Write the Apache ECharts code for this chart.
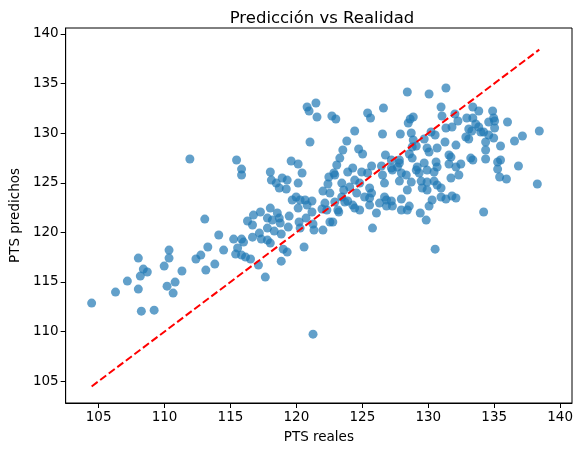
<!DOCTYPE html>
<html>
<head>
<meta charset="utf-8">
<script src="https://cdn.jsdelivr.net/npm/echarts@6/dist/echarts.min.js"></script>
<style>
html,body{margin:0;padding:0;background:#fff;}
#chart{width:583px;height:455px;}
</style>
</head>
<body>
<div id="chart"></div>
<script>
// Real points (x) and predicted points (y)
const realPts = [
111.92,113.05,110.34,113.28,108.01,110.34,112.38,112.75,108.39,108.69,
108.16,109.97,111.32,113.13,107.18,106.28,108.01,110.19,110.80,110.65,
104.47,108.24,109.21,115.46,115.84,115.84,119.60,120.13,118.02,118.10,
118.47,118.92,119.30,118.70,119.23,120.13,119.68,119.98,120.43,114.11,
113.81,114.48,115.24,115.84,115.99,115.54,115.39,115.84,116.14,116.52,
117.12,117.64,118.85,116.29,116.67,116.74,117.27,118.02,117.80,118.17,
118.55,118.70,118.77,119.45,120.20,119.38,117.80,118.32,118.85,117.19,
116.67,117.34,117.80,118.02,119.00,119.30,120.13,120.58,121.48,120.81,
120.96,121.56,122.69,122.99,125.40,125.62,126.60,124.42,126.53,121.03,
123.82,123.52,124.72,125.02,123.29,126.75,123.06,122.84,122.46,122.39,
124.27,124.95,125.70,126.45,127.81,127.20,122.91,123.89,124.42,125.40,
126.53,127.28,127.81,122.01,123.44,123.59,124.04,124.80,125.55,125.70,
126.68,124.57,122.54,123.44,122.16,122.91,123.67,124.27,125.55,126.68,
126.30,126.83,127.20,127.96,123.14,124.80,126.07,127.96,120.28,120.66,
121.18,120.81,121.18,120.73,121.26,121.33,122.01,122.31,121.94,122.54,
122.76,123.21,123.89,124.42,125.17,125.55,125.77,120.28,128.41,130.06,
131.34,130.97,131.04,132.02,132.25,132.92,128.63,128.86,128.48,131.34,
131.80,133.07,127.88,128.71,130.21,130.52,132.85,133.07,128.86,129.69,
129.09,128.78,129.91,130.06,130.67,131.27,132.10,128.56,128.78,131.57,
131.72,127.81,127.20,127.66,129.16,129.69,130.59,130.67,131.57,132.10,
132.47,127.96,128.33,129.09,129.31,129.91,130.44,128.71,129.46,129.91,
130.44,130.67,131.72,132.32,128.41,129.54,129.91,130.97,126.83,127.28,
128.56,128.41,129.39,129.84,130.06,130.29,130.97,131.34,131.80,132.10,
130.52,133.38,133.83,134.88,133.38,134.96,135.03,134.58,136.01,133.60,
133.83,135.03,133.30,133.98,134.20,134.58,134.96,134.35,136.54,137.14,
138.42,135.48,134.35,133.22,133.38,134.35,135.26,135.48,136.84,135.26,
135.41,135.93,138.27,134.20,121.26
];
const predPts = [
127.39,121.34,118.21,118.52,117.41,117.41,117.31,117.71,116.30,116.00,
115.59,116.60,116.10,116.20,115.09,113.98,114.28,114.58,114.99,113.88,
112.87,112.06,112.16,127.29,126.38,125.78,127.19,126.89,126.08,125.27,
124.97,125.48,125.27,124.47,124.37,124.97,123.26,123.56,125.98,119.73,
116.80,118.21,119.32,119.32,119.02,118.42,117.81,117.71,117.51,117.31,
116.70,115.49,117.10,121.14,120.74,121.74,122.05,122.45,121.44,121.24,
121.95,121.44,120.94,121.64,121.04,120.53,120.43,120.13,119.83,119.93,
119.52,119.32,119.22,118.92,118.31,118.01,122.45,118.52,133.04,132.64,
132.23,131.63,131.73,131.43,132.03,131.53,132.54,130.22,129.91,129.11,
129.21,128.30,128.40,127.90,127.49,127.80,126.79,125.98,125.58,124.87,
126.49,126.08,126.69,126.69,126.99,127.29,125.78,126.08,125.27,125.98,
125.78,126.28,125.17,124.16,124.97,124.27,124.57,124.97,124.47,123.96,
124.97,123.96,123.96,123.56,122.95,123.06,123.06,122.75,122.75,123.56,
122.95,122.65,123.16,123.36,122.25,122.25,121.95,122.25,123.26,123.26,
123.16,122.75,122.05,121.44,120.84,120.23,120.23,122.25,122.35,121.04,
121.04,122.05,123.16,122.45,123.56,123.46,120.43,120.43,134.15,133.95,
134.55,132.64,131.73,131.93,131.23,131.53,131.43,131.63,131.02,130.52,
130.62,130.42,129.91,130.02,130.12,129.81,129.61,129.41,129.31,129.41,
128.70,128.60,128.50,128.10,128.50,129.11,128.80,127.90,127.49,127.80,
127.59,127.29,126.49,126.59,126.59,126.99,127.09,126.59,126.89,126.59,
126.89,125.98,125.78,126.28,125.98,126.28,126.08,125.07,125.17,125.07,
125.17,124.77,125.48,125.78,124.27,124.47,124.27,124.47,123.26,122.65,
122.65,122.25,121.95,121.24,122.65,123.26,123.56,123.36,123.66,123.46,
118.31,132.64,132.23,132.23,131.53,131.53,131.23,131.12,131.12,130.92,
130.62,130.52,130.22,130.12,130.12,129.81,129.51,129.11,129.21,129.71,
130.22,128.70,128.30,127.49,127.29,127.39,127.09,127.29,126.69,126.38,
125.58,125.38,124.87,122.05,109.74
];
const xTicks = [105,110,115,120,125,130,135,140];
const yTicks = [105,110,115,120,125,130,135,140];
const titleText = 'Predicción vs Realidad';
const xName = 'PTS reales';
const yName = 'PTS predichos';

const scatterData = realPts.map((v, i) => [v, predPts[i]]);
const lo = Math.min(...realPts), hi = Math.max(...realPts);
const lineData = [[lo, lo], [hi, hi]];

const font = 'DejaVu Sans';
const chart = echarts.init(document.getElementById('chart'), null, {renderer: 'canvas'});
chart.setOption({
  animation: false,
  backgroundColor: '#fff',
  textStyle: {fontFamily: font},
  title: {
    text: titleText,
    left: 317, top: 5, textAlign: 'center',
    textStyle: {fontFamily: font, fontSize: 16.5, fontWeight: 'normal', color: '#000'}
  },
  grid: {left: 62, top: 28, width: 510, height: 375, show: true, borderColor: '#000', borderWidth: 1, backgroundColor: 'transparent', containLabel: false},
  xAxis: {
    type: 'value', min: 102.5, max: 140.9,
    name: xName, nameLocation: 'middle', nameGap: 27,
    nameTextStyle: {fontFamily: font, fontSize: 13.5, color: '#000'},
    axisLine: {show: true, onZero: false, lineStyle: {color: '#000', width: 1}},
    axisTick: {show: true, length: 5, inside: false, customValues: xTicks, lineStyle: {color: '#000'}},
    axisLabel: {customValues: xTicks, fontFamily: font, fontSize: 13.5, color: '#000', margin: 7},
    splitLine: {show: false}
  },
  yAxis: {
    type: 'value', min: 102.8, max: 140.6,
    name: yName, nameLocation: 'middle', nameGap: 37, nameRotate: 90,
    nameTextStyle: {fontFamily: font, fontSize: 13.5, color: '#000'},
    axisLine: {show: true, onZero: false, lineStyle: {color: '#000', width: 1}},
    axisTick: {show: true, length: 5, inside: false, customValues: yTicks, lineStyle: {color: '#000'}},
    axisLabel: {customValues: yTicks, fontFamily: font, fontSize: 13.5, color: '#000', margin: 7},
    splitLine: {show: false}
  },
  series: [
    {
      type: 'scatter', data: scatterData, symbol: 'circle', symbolSize: 9,
      itemStyle: {color: '#1f77b4', opacity: 0.7, borderWidth: 0},
      z: 2
    },
    {
      type: 'line', data: lineData, symbol: 'none', silent: true,
      lineStyle: {color: '#ff0000', width: 2, type: [7.5, 3.2]},
      z: 3
    }
  ]
});
</script>
</body>
</html>
